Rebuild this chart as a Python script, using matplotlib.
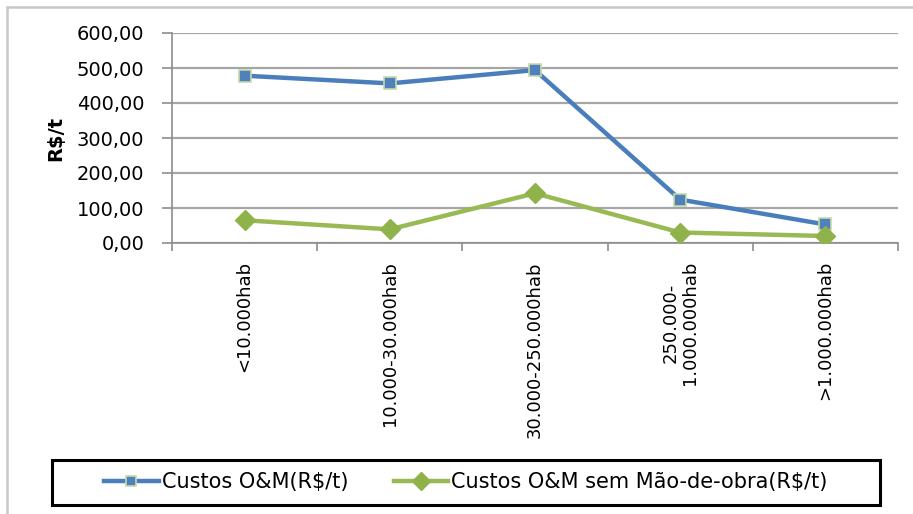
import matplotlib
matplotlib.use("Agg")
import matplotlib.pyplot as plt
from matplotlib.patches import Rectangle
from matplotlib.ticker import FuncFormatter

categories = ["<10.000hab", "10.000-30.000hab", "30.000-250.000hab",
              "250.000-\n1.000.000hab", ">1.000.000hab"]
custos_om = [478, 456, 494, 124, 53]
custos_sem_mo = [65, 39, 142, 30, 20]
series_names = ["Custos O&M(R$/t)", "Custos O&M sem Mão-de-obra(R$/t)"]
y_ticks = [0, 100, 200, 300, 400, 500, 600]

plt.rcParams['font.family'] = ['DejaVu Sans']

fig = plt.figure(figsize=(9.13, 5.14), dpi=100)
W, H = 913, 514
ax = fig.add_axes([172 / W, 1 - 243 / H, (898 - 172) / W, (243 - 33) / H])

x = list(range(len(categories)))
blue_line = "#4A7EBB"
blue_fill = "#4F81BD"
green_line = "#98B954"
green_fill = "#8FB24A"

ax.plot(x, custos_om, color=blue_line, lw=3.2, marker='s', ms=8.5,
        markerfacecolor=blue_fill, markeredgecolor="#C6D9A8", markeredgewidth=1.2,
        label=series_names[0], zorder=3)
ax.plot(x, custos_sem_mo, color=green_line, lw=3.2, marker='D', ms=10,
        markerfacecolor=green_fill, markeredgecolor=green_fill,
        label=series_names[1], zorder=3)

ax.set_xlim(-0.5, len(categories) - 0.5)
ax.set_ylim(0, 600)
ax.set_yticks(y_ticks)
ax.yaxis.set_major_formatter(FuncFormatter(lambda v, p: f"{v:.2f}".replace(".", ",")))
ax.grid(axis='y', color="#A6A6A6", lw=1.6)
ax.set_axisbelow(True)

ax.set_xticks(x)
ax.set_xticklabels(categories, rotation=90, va='top', ha='center',
                   fontsize=13, linespacing=1.05)
ax.set_xticks([i - 0.5 for i in range(len(categories) + 1)], minor=True)
ax.tick_params(axis='x', which='major', length=0, pad=13)
ax.tick_params(axis='x', which='minor', length=6, width=1.2, color="#8C8C8C", direction='out')
ax.tick_params(axis='y', length=7, width=1.2, color="#8C8C8C", labelsize=14, pad=13)

for s in ['top', 'right']:
    ax.spines[s].set_visible(False)
for s in ['left', 'bottom']:
    ax.spines[s].set_color("#8C8C8C")
    ax.spines[s].set_linewidth(1.2)

ax.set_ylabel("R$/t", fontsize=14, fontweight='bold', labelpad=8)

# outer chart frame
fig.patches.append(Rectangle((7 / W, -0.1), 1.2, 1 - 7 / H + 0.1, transform=fig.transFigure,
                             fill=False, edgecolor="#C8C8C8", lw=1.8))

# legend box
fig.patches.append(Rectangle((52 / W, 1 - 505 / H), (880 - 52) / W, 45 / H,
                             transform=fig.transFigure, fill=False,
                             edgecolor="black", lw=2.2))
handles, labels = ax.get_legend_handles_labels()
fig.legend(handles, labels, loc='center', ncol=2, frameon=False,
           bbox_to_anchor=((52 + 880) / 2 / W, 1 - 482 / H),
           fontsize=15, handlelength=2.6, handletextpad=0.15, columnspacing=2.2,
           markerscale=0.9)

fig.savefig("out.png", dpi=100)
